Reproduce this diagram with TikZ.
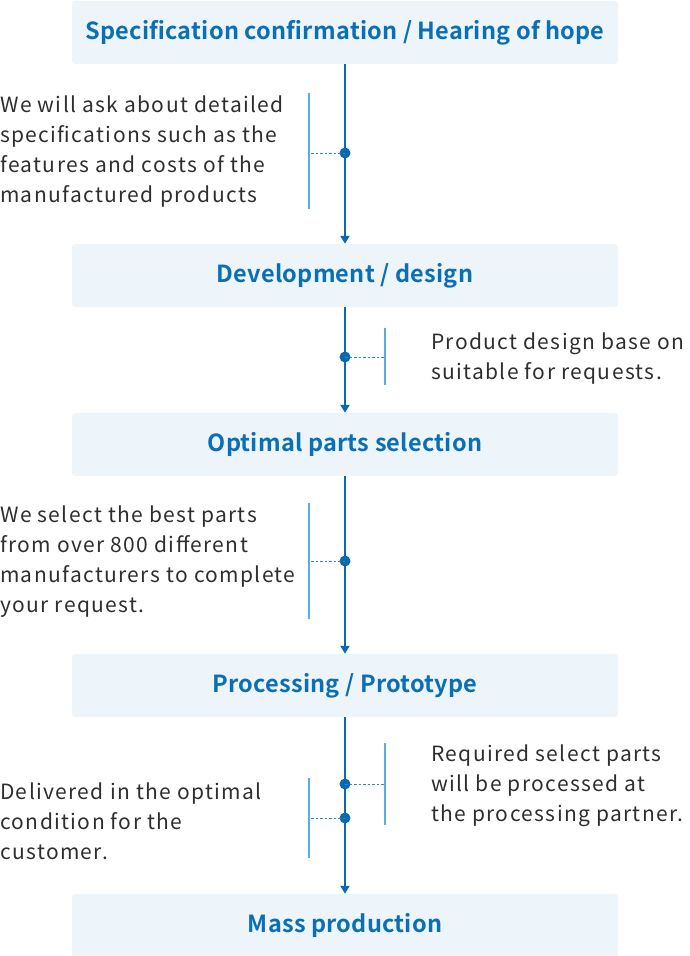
\documentclass[tikz,border=0pt]{standalone}
\usepackage{fontspec}
\setmainfont{Noto Sans CJK JP}
\newfontfamily\bodyjp[LetterSpace=6.5]{Noto Sans CJK JP}
\newfontfamily\boldjp[LetterSpace=1]{Noto Sans CJK JP Bold}
\usetikzlibrary{arrows.meta}
\definecolor{boxfill}{HTML}{EEF5FA}
\definecolor{titleblue}{HTML}{0A6FB5}
\definecolor{mainblue}{HTML}{0A6AB0}
\definecolor{lightblue}{HTML}{5AADE0}
\definecolor{dashblue}{HTML}{2E8BCB}
\definecolor{bodytext}{HTML}{2E2E2E}
\tikzset{
  stepbox/.style={fill=boxfill, draw=none, rounded corners=3pt, minimum width=546pt, minimum height=63pt, inner sep=0pt,
    text=titleblue, font=\boldjp\fontsize{23.5}{26}\selectfont},
  flow/.style={draw=mainblue, line width=2pt, -{Triangle[width=9pt,length=8pt]}},
  dot/.style={circle, fill=mainblue, inner sep=0pt, minimum size=11pt},
  bracket/.style={draw=lightblue, line width=1.3pt},
  leader/.style={draw=dashblue, line width=0.9pt, dash pattern=on 2.5pt off 2pt},
  bodyL/.style={anchor=north west, inner sep=0pt, align=left, text=bodytext, font=\bodyjp\fontsize{21}{30}\selectfont},
}
\begin{document}
\begin{tikzpicture}[x=1pt,y=-1pt]
\useasboundingbox (0,0) rectangle (689,956);
% boxes
\node[stepbox] (b1) at (345,32.5) {Specification confirmation / Hearing of hope};
\node[stepbox] (b2) at (345,275.5) {Development / design};
\node[stepbox] (b3) at (345,444.5) {Optimal parts selection};
\node[stepbox] (b4) at (345,685.5) {Processing / Prototype};
\node[stepbox] (b5) at (345,925.5) {Mass production};
% main flow
\draw[flow] (b1.south) -- (b2.north);
\draw[flow] (b2.south) -- (b3.north);
\draw[flow] (b3.south) -- (b4.north);
\draw[flow] (b4.south) -- (b5.north);
% section 1
\coordinate (l1t) at (309,93); \coordinate (l1b) at (309,209); \coordinate (l1m) at (309,153);
\node[dot] (d1) at (345,153) {};
\draw[bracket] (l1t) -- (l1b);
\draw[leader] (d1.center) -- (l1m);
\node[bodyL] (t1) at (0,96) {We will ask about detailed\\specifications such as the\\features and costs of the\\manufactured products};
% section 2
\coordinate (l2t) at (385,328); \coordinate (l2b) at (385,385); \coordinate (l2m) at (385,357);
\node[dot] (d2) at (345,357) {};
\draw[bracket] (l2t) -- (l2b);
\draw[leader] (d2.center) -- (l2m);
\node[bodyL] (t2) at (431,333) {Product design base on\\suitable for requests.};
% section 3
\coordinate (l3t) at (309,503); \coordinate (l3b) at (309,619); \coordinate (l3m) at (309,561);
\node[dot] (d3) at (345,561) {};
\draw[bracket] (l3t) -- (l3b);
\draw[leader] (d3.center) -- (l3m);
\node[bodyL] (t3) at (0,506) {We select the best parts\\from over 800 different\\manufacturers to complete\\your request.};
% section 4
\coordinate (l4t) at (385,743); \coordinate (l4b) at (385,825); \coordinate (l4m) at (385,784);
\node[dot] (d4) at (345,784) {};
\draw[bracket] (l4t) -- (l4b);
\draw[leader] (d4.center) -- (l4m);
\node[bodyL] (t4) at (431,745) {Required select parts\\will be processed at\\the processing partner.};
\coordinate (l5t) at (309,778); \coordinate (l5b) at (309,858); \coordinate (l5m) at (309,818);
\node[dot] (d5) at (345,818) {};
\draw[bracket] (l5t) -- (l5b);
\draw[leader] (d5.center) -- (l5m);
\node[bodyL] (t5) at (0,783) {Delivered in the optimal\\condition for the\\customer.};
\end{tikzpicture}
\end{document}
